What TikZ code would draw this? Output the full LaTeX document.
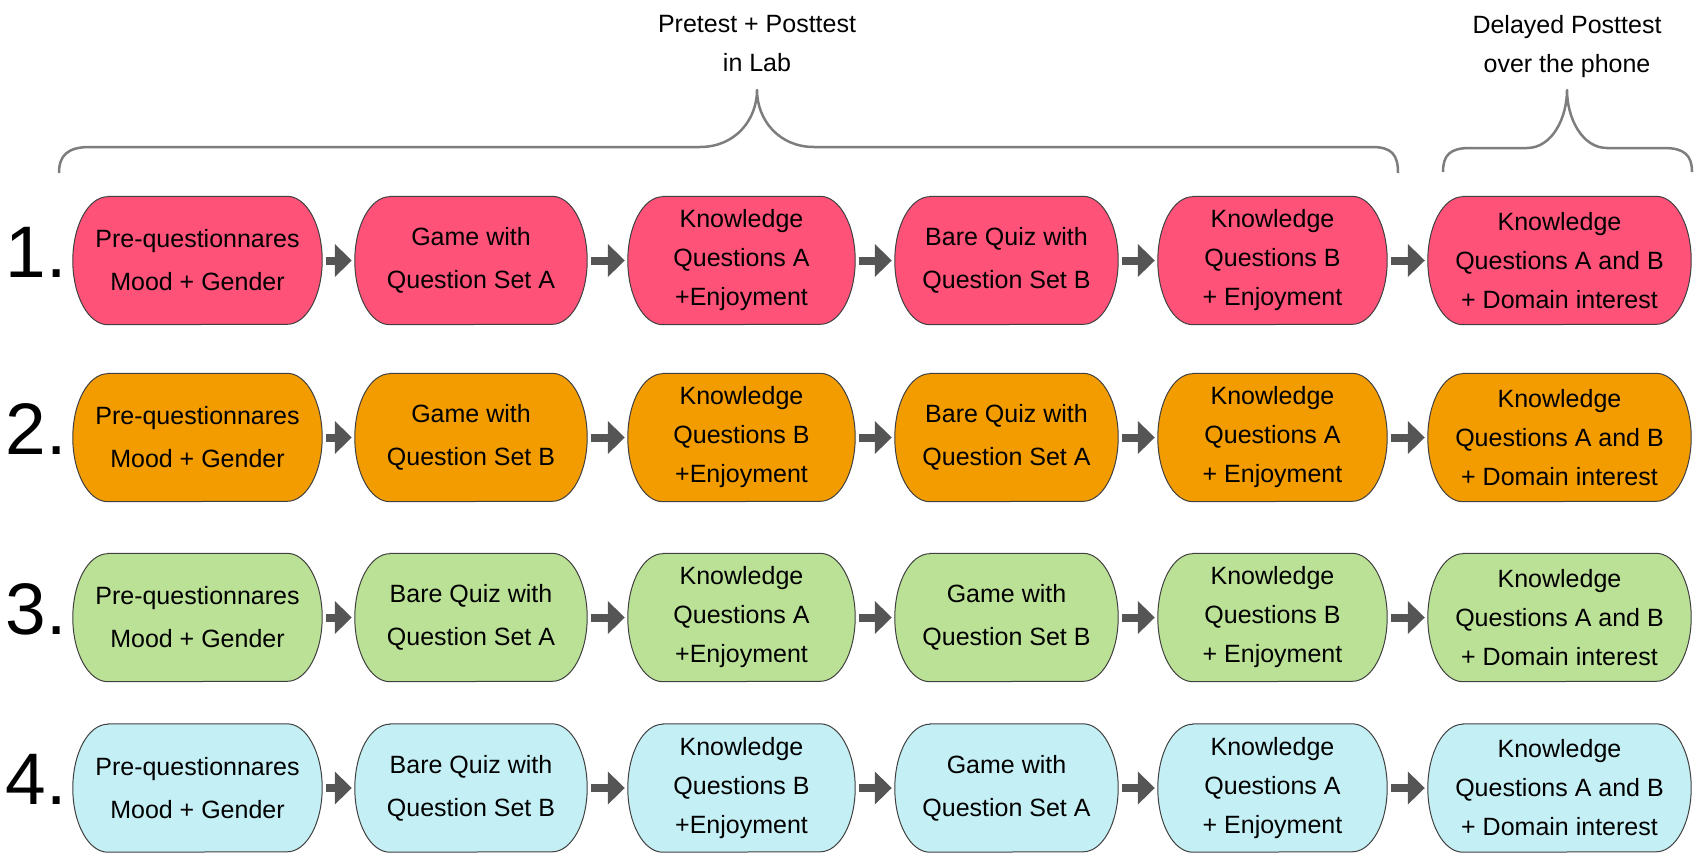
\documentclass[tikz,border=0pt]{standalone}
\usepackage{fontspec}
\setmainfont{Liberation Sans}
\usetikzlibrary{arrows.meta,backgrounds}

\definecolor{pinkfill}{RGB}{255,82,120}
\definecolor{orangefill}{RGB}{243,156,0}
\definecolor{greenfill}{RGB}{187,225,150}
\definecolor{cyanfill}{RGB}{196,240,245}
\definecolor{arrowgrey}{RGB}{85,85,85}
\definecolor{bracegrey}{RGB}{125,125,125}

\tikzset{
  stage/.style={rectangle, minimum height=128pt, inner sep=0pt, align=center},
  pill/.style={draw=black!75, line width=1pt},
  flow/.style={draw=arrowgrey, line width=8pt, -{Triangle[length=17pt,width=32pt]},
    shorten <=4pt, shorten >=3pt},
  brace/.style={draw=bracegrey, line width=2.5pt, line join=round},
  header/.style={anchor=north, align=center, inner sep=0pt, font=\fontsize{25}{39}\selectfont},
  rownum/.style={anchor=base east, inner sep=0pt, font=\fontsize{73}{73}\selectfont}
}

\begin{document}
\begin{tikzpicture}[x=1pt,y=-1pt]
\useasboundingbox (0,0) rectangle (1696,852);

% column centres, widths and line spacing
\def\colx{{197.5,471,741.5,1006.5,1272.5,1559.5}}
\def\colw{{249,232,227,223,229,263}}
\def\colb{{43,43,39,43,39,39}}

% braces and their labels
\draw[brace](59,173) .. controls (59,155) and (68,147) .. (90,147) -- (700,147)
  .. controls (735,147) and (757,120) .. (757,90)
  .. controls (757,120) and (779,147) .. (814,147) -- (1372,147)
  .. controls (1392,147) and (1398,155) .. (1398,173);
\draw[brace](1443,172) .. controls (1443,155) and (1450,148) .. (1470,148) -- (1527,148)
  .. controls (1552,148) and (1567,118) .. (1567,90)
  .. controls (1567,118) and (1582,148) .. (1607,148) -- (1664,148)
  .. controls (1684,148) and (1692,155) .. (1692,172);
\node[header] (lab) at (757,15) {Pretest + Posttest\\in Lab};
\node[header] (phone) at (1567,15) {Delayed Posttest\\over the phone};

% row numbers
\node[rownum] (n1) at (67,277) {1.};
\node[rownum] (n2) at (67,454) {2.};
\node[rownum] (n3) at (67,634) {3.};
\node[rownum] (n4) at (67,804.5) {4.};

% the four orders
\foreach\t[count=\i] in{{Pre-questionnares\\Mood + Gender},{Game with\\Question Set A},{Knowledge\\Questions A\\+Enjoyment},{Bare Quiz with\\Question Set B},{Knowledge\\Questions B\\+ Enjoyment},{Knowledge\\Questions A and B\\+ Domain interest}}
 {\pgfmathsetmacro\cx{\colx[\i-1]}\pgfmathsetmacro\cw{\colw[\i-1]}\pgfmathsetmacro\cb{\colb[\i-1]}
  \node[stage,minimum width=\cw pt,font=\fontsize{25}{\cb}\selectfont](r1c\i) at(\cx,260.5){\t};};
\foreach\t[count=\i] in{{Pre-questionnares\\Mood + Gender},{Game with\\Question Set B},{Knowledge\\Questions B\\+Enjoyment},{Bare Quiz with\\Question Set A},{Knowledge\\Questions A\\+ Enjoyment},{Knowledge\\Questions A and B\\+ Domain interest}}
 {\pgfmathsetmacro\cx{\colx[\i-1]}\pgfmathsetmacro\cw{\colw[\i-1]}\pgfmathsetmacro\cb{\colb[\i-1]}
  \node[stage,minimum width=\cw pt,font=\fontsize{25}{\cb}\selectfont](r2c\i) at(\cx,437.5){\t};};
\foreach\t[count=\i] in{{Pre-questionnares\\Mood + Gender},{Bare Quiz with\\Question Set A},{Knowledge\\Questions A\\+Enjoyment},{Game with\\Question Set B},{Knowledge\\Questions B\\+ Enjoyment},{Knowledge\\Questions A and B\\+ Domain interest}}
 {\pgfmathsetmacro\cx{\colx[\i-1]}\pgfmathsetmacro\cw{\colw[\i-1]}\pgfmathsetmacro\cb{\colb[\i-1]}
  \node[stage,minimum width=\cw pt,font=\fontsize{25}{\cb}\selectfont](r3c\i) at(\cx,617.5){\t};};
\foreach\t[count=\i] in{{Pre-questionnares\\Mood + Gender},{Bare Quiz with\\Question Set B},{Knowledge\\Questions B\\+Enjoyment},{Game with\\Question Set A},{Knowledge\\Questions A\\+ Enjoyment},{Knowledge\\Questions A and B\\+ Domain interest}}
 {\pgfmathsetmacro\cx{\colx[\i-1]}\pgfmathsetmacro\cw{\colw[\i-1]}\pgfmathsetmacro\cb{\colb[\i-1]}
  \node[stage,minimum width=\cw pt,font=\fontsize{25}{\cb}\selectfont](r4c\i) at(\cx,788){\t};};

% pill outlines behind the text, ends are half ellipses
\begin{pgfonlayer}{background}
\foreach\k/\col in{1/pinkfill,2/orangefill,3/greenfill,4/cyanfill}
 \foreach\i in{1,...,6}
  {\draw[pill,fill=\col]([xshift=35pt]r\k c\i.north west) -- ([xshift=-35pt]r\k c\i.north east)
    arc[start angle=90,end angle=-90,x radius=35pt,y radius=64pt]
    -- ([xshift=35pt]r\k c\i.south west)
    arc[start angle=270,end angle=90,x radius=35pt,y radius=64pt] -- cycle;};
\end{pgfonlayer}

% arrows
\foreach\k in{1,...,4}
 \foreach\i in{1,...,5}
  {\pgfmathtruncatemacro\nx{\i+1}
   \draw[flow](r\k c\i.east) -- (r\k c\nx.west);};
\end{tikzpicture}
\end{document}
